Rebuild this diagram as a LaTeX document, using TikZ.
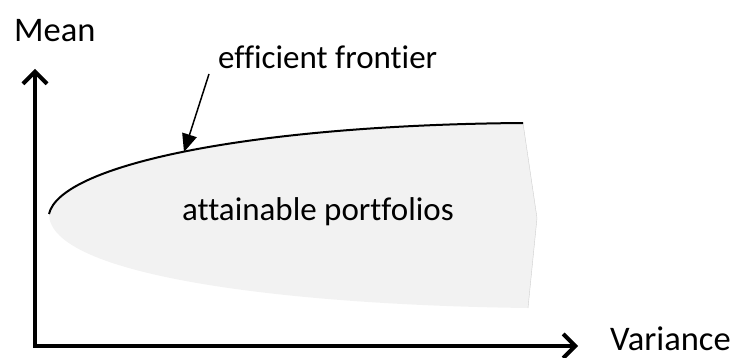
\documentclass[tikz,border=0pt]{standalone}
\usepackage{fontspec}
\setmainfont{Carlito}[Ligatures={NoCommon,NoRare,NoContextual}]
\usetikzlibrary{arrows.meta}
\definecolor{regionfill}{RGB}{242,242,242}
\tikzset{
  axisline/.style={line width=4pt, -{Straight Barb[length=12pt,width=24pt,line width=4pt]}},
  axislabel/.style={anchor=base west, inner sep=0pt, font=\fontsize{34.5}{42}\selectfont},
  innerlabel/.style={anchor=base west, inner sep=0pt, font=\fontsize{33}{40}\selectfont},
  frontier/.style={line width=2pt, black},
  pointer/.style={line width=1.5pt, -{Triangle[length=18pt,width=15pt]}},
}
\begin{document}
\begin{tikzpicture}[x=1pt,y=-1pt]
\useasboundingbox (0,0) rectangle (744,358);
% attainable region
\fill[regionfill] (49,214) .. controls (60,165) and (250,125) .. (523,123)
  -- (537,218) -- (528,308)
  .. controls (280,305) and (49,275) .. (49,214) -- cycle;
\draw[regionfill!85!black, line width=0.4pt] (523,123) -- (537,218) -- (528,308);
\draw[frontier] (49,214) .. controls (60,165) and (250,125) .. (523,123);
% axes
\coordinate (origin) at (35,346);
\coordinate (ytip) at (35,69);
\coordinate (xtip) at (578,346);
\draw[axisline] ([yshift=2pt]origin) -- (ytip);
\draw[axisline] ([xshift=-2pt]origin) -- (xtip);
% labels
\node[axislabel] (mean) at (14,42) {Mean};
\node[axislabel] (variance) at (610,350) {Variance};
\node[innerlabel] (ef) at (218,69) {efficient frontier};
\node[innerlabel] (ap) at (182,221) {attainable portfolios};
% pointer
\coordinate (efstart) at (209,74);
\coordinate (eftip) at (184,152);
\draw[pointer] (efstart) -- (eftip);
\end{tikzpicture}
\end{document}
